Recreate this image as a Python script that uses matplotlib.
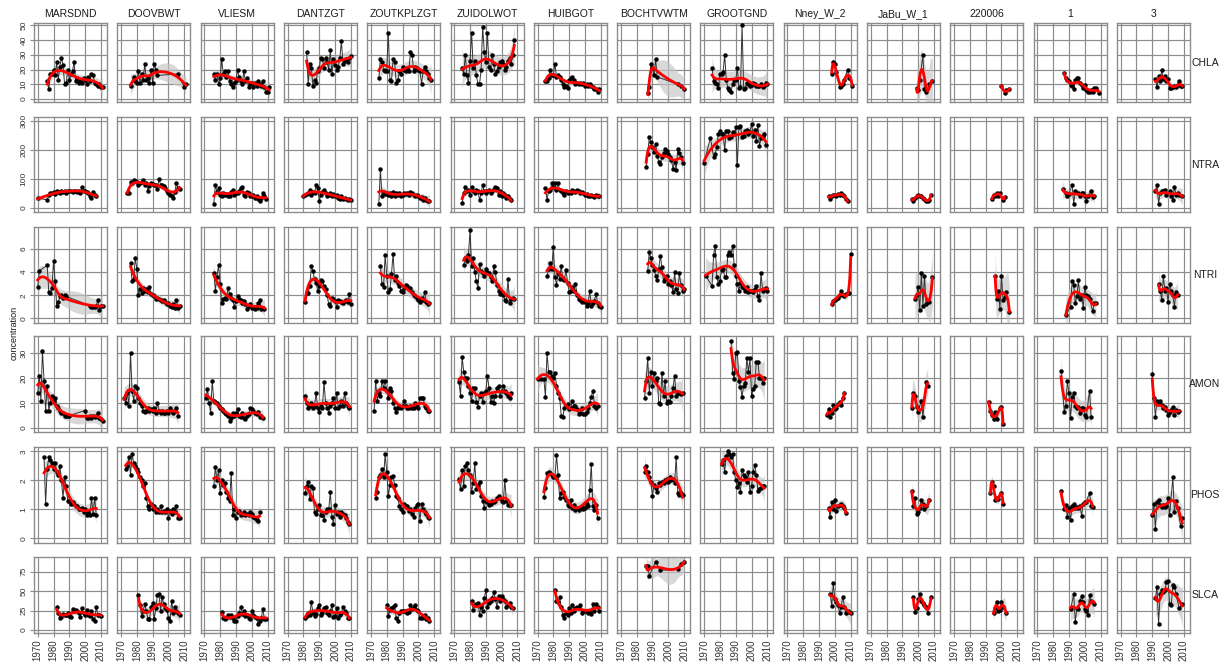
import numpy as np
import matplotlib.pyplot as plt

plt.rcParams['font.family'] = ['Liberation Sans', 'DejaVu Sans']

# stations (columns) and variables (rows)
STATIONS = ["MARSDND", "DOOVBWT", "VLIESM", "DANTZGT", "ZOUTKPLZGT", "ZUIDOLWOT", "HUIBGOT",
            "BOCHTVWTM", "GROOTGND", "Nney_W_2", "JaBu_W_1", "220006", "1", "3"]
KEYS = ["MARSDND", "DOOVBWT", "VLIESM", "DANTZGT", "ZOUTKPLZGT", "ZUIDOLWOT", "HUIBGOT",
        "BOCHTVWTM", "GROOTGND", "NNEY", "JABU", "S220006", "S1", "S3"]
VARIABLES = ["CHLA", "NTRA", "NTRI", "AMON", "PHOS", "SLCA"]

YEAR_TICKS = [1970, 1980, 1990, 2000, 2010]
Y_TICKS = {"CHLA": [0, 10, 20, 30, 40, 50], "NTRA": [0, 100, 200, 300], "NTRI": [0, 2, 4, 6],
           "AMON": [0, 10, 20, 30], "PHOS": [0, 1, 2, 3], "SLCA": [0, 25, 50, 75]}

# each series: (first year, yearly values; None = no measurement)
CHLA_MARSDND = (1976, [12, 7, 17, 17, 20, 16, 25, 13, 22, 28, 23, 10, 11, 20, 13, 17, 19, 25, 12, 14, 11, 12, 11, 14, 13, 10, 15, 12, 17, 16, 11, 10, 9, 10, 8, 8])
CHLA_DOOVBWT = (1976, [9, None, 15, 12, 11, 19, 11, 17, 13, 24, 13, 14, 11, 20, 11, 24, 20, 16] + [None] * 12 + [17, None, None, None, 8, 10])
CHLA_VLIESM = (1976, [17, 13, 17, 10, 14, 27, 17, 19, 15, 19, 12, 10, 8, 11, 12, 20, 15, 12, 10, 19, 12, 14, 8, 10, 11, 8, 11, 9, 12, 10, 9, 12, 8, 5, 5, 8])
CHLA_DANTZGT = (1982, [32, 10, 24, 21, 9, 13, 11, 19, 21, 28, 27, 21, 28, 25, 20, 33, 17, 27, 23, 20, 22, 28, 39, 24, 26, 27, 25, 28, 29])
CHLA_ZOUTKPLZGT = (1975, [14, 27, 25, 20, 19, 19, 45, 13, 12, 27, 25, 11, 13, 19, 17, 22, 20, 19, 21, 19, 32, 30, 19, 22, 21, 20, 19, 10, 19, 22, 19, 17, 14, 13])
CHLA_ZUIDOLWOT = (1975, [21, 17, 30, 16, 11, 26, 45, 21, 26, 16, 10, 10, 20, 49, 32, 25, 45, 22, 20, 30, 24, 17, 19, 22, 25, 26, 24, 20, 22, 26, 28, 24, 30, 40])
CHLA_HUIBGOT = (1975, [12, 12, 14.5, 20, 16, 16, 24, 15, 16, 15, 13, 10, 8, 9, 7.5, 13, 14, 15, 13, 10, 11, 10, 11, 10, 11, 9, 10, 9, 10, 9, 8, 7, 6.5, 5, 7])
CHLA_BOCHTVWTM = (1987, [4, 8, 24, 21, 16, 27, 15] + [None] * 12 + [10, None, 9, None, 7])
CHLA_GROOTGND = (1975, [21, 12, 11, 10, 7.4, 17, 17, 18, 30, 13, 7.4, 6, 5, 10, 13, 13, 21, 7.4, 8, 50, 7, 7.4, 11, 10, 9, 9.5, 11, 10, 9, 8.5, 9, 10, 8, 9, 11, 10])
CHLA_NNEY = (1998, [17, 25, 24, 18, None, 8, 9, 10, 13, None, 20, 14, None, 9])
CHLA_JABU = (1999, [7.4, 6, 13, None, 29.5, 7, 5, None, 10, None, 12])
CHLA_S220006 = (2000, [9, None, 4.4, 5.8, None, 6.7])
CHLA_S1 = (1987, [17.4, 14.4, 12.8, 12, 9.8, 8.6, 6.7, 12.8, 14.4, 14.4, 11, 9.8, 7.4, 9.8, 6.3, 5, 5, 5.8, 5, 7.4, 7.4, None, 4.4])
CHLA_S3 = (1992, [13.7, 8.1, 15.6, 12, 19.5, 13.3, 15.6, 12, 13.3, 7.4, 7.4, 8.1, 8.6, 8.1, 9.8, 12, 9, 8.6])

NTRA_MARSDND = (1970, [34, None, None, None, None, None, 28, 45, 52, 50, 55, 48, 58, 55, 52, 60, 55, 58, 50, 60, 58, 60, 55, 58, 60, 55, 58, 50, 74, 60, 58, 55, 50, 40, 35, 55, 45, 42])
NTRA_DOOVBWT = (1974, [50, 52, 90, 85, 95, 93, 90, 80, 85, 90, 95, 80, 85, 60, 75, 85, 82, 80, 78, 65, 100, 80, 78, 75, 70, 60, 50, 45, 40, 35, 55, 85, 70, 65])
NTRA_VLIESM = (1976, [15, 80, 55, 68, 45, 40, 50, 45, 48, 42, 40, 55, 62, 45, 50, 52, 59, 70, 74, 45, 40, 55, 50, 42, 40, 45, 35, 40, 30, 25, 35, 50, 40, 30])
NTRA_DANTZGT = (1980, [40, 45, 48, 50, 62, 45, 55, 50, 80, 70, 25, 45, 55, 62, 50, 40, 45, 52, 42, 48, 40, 45, 35, 30, 40, 32, 35, 30, 28, 30, 28])
NTRA_ZOUTKPLZGT = (1975, [15, 133, 40, 55, 48, 50, 45, 52, 42, 55, 40, 50, 45, 52, 40, 45, 52, 48, 50, 45, 55, 50, 46, 42, 45, 40, 35, 38, 28, 35, 28, 25, 23])
NTRA_ZUIDOLWOT = (1975, [17, 51, 74, 57, 62, 45, 74, 57, 51, 62, 57, 28, 51, 80, 57, 51, 57, 62, 51, 60, 65, 74, 68, 45, 57, 40, 51, 45, 35, 40, 30, 28])
NTRA_HUIBGOT = (1975, [68, 28, 57, 62, 85, 74, 87, 62, 85, 62, 57, 51, 45, 57, 51, 55, 51, 62, 57, 55, 62, 60, 50, 55, 50, 45, 48, 42, 40, 45, 40, 38, 45, 42, 40])
NTRA_BOCHTVWTM = (1986, [142, 185, 244, 227, 210, 192, 222, 180, 160, 151, 175, 188, 205, 195, 187, 175, 165, 136, 160, 130, 205, 188, 175, 155])
NTRA_GROOTGND = (1970, [156, None, None, None, 242, None, 176, 185, 210, 256, 264, 255, 255, 199, 267, 265, 240, 245, 262, 255, 278, 148, 281, 284, 245, 248, 265, 270, 255, 262, 290, 250, 270, 232, 287, 215, 240, 250, 255, 218])
NTRA_NNEY = (1996, [40, 32, 42, 46, 44, 40, 49, 44, 50, 45, 40, 32, 23])
NTRA_JABU = (1996, [31, 23, 35, 40, 45, 42, 40, 35, 31, 23, 25, 28, 45])
NTRA_S220006 = (1994, [32, 45, 40, 53, 42, 51, None, 28, 37])
NTRA_S1 = (1986, [65, None, 53, 40, 49, None, 80, 15, 57, None, 51, 40, 51, 53, 42, 23, 40, None, 60, 38, 40])
NTRA_S3 = (1992, [57, 80, 15, 51, 57, 57, 62, 45, None, 57, 42, 28, 74, 45, 51, 45, None, 40])

NTRI_MARSDND = (1970, [2.7, 4.1, None, None, None, None, 4.6, 2.3, 2.2, 2.6, 5.0, 3.2, 1.1, 1.4, 1.9, 2.0, 1.8, 2.0, 1.9] + [None] * 14 + [1.1, 1.0, 1.0, 1.0, 1.1, 1.6, 0.7, 1.1, 1.1])
NTRI_DOOVBWT = (1976, [4.8, 3.2, 3.4, 5.2, 4.3, 2.0, 2.5, 2.2, 2.6, 2.4, 2.5, 2.3, 2.7, 2.1, 2.0, 1.9, 1.7, 1.8, 1.7, 1.6, 1.5, 1.6, 1.4, 1.2, 1.3, 1.1, 1.0, 1.2, 0.9, 1.6, 0.9, 1.1])
NTRI_VLIESM = (1976, [3.9, 2.4, 3.6, 4.6, 3.0, 1.3, 1.7, 1.8, 1.7, 2.6, 2.1, 1.8, 1.6, 1.0, 1.5, 1.9, 1.7, 1.6, 1.3, 1.5, 1.2, 0.8, 1.1, 1.2, 0.9, 1.0, 0.8, 0.9, 1.3, 1.6, 0.8, 0.9, 0.85])
NTRI_DANTZGT = (1981, [1.4, 2.2, 2.2, 2.8, 4.5, 4.1, 3.4, 3.1, 2.4, 2.8, 3.3, 3.2, 2.8, 2.5, 2.0, 1.2, 1.1, 1.8, 1.7, 1.5, 1.0, 1.6, 1.5, 1.4, 1.3, 1.5, 1.6, 1.4, 2.1, 1.2])
NTRI_ZOUTKPLZGT = (1976, [4.5, 3.0, 2.7, 5.5, 3.7, 2.3, 2.5, 3.8, 5.6, 3.3, 3.7, 3.1, 2.8, 2.4, 2.3, 2.6, 2.9, 2.8, 2.5, 2.6, 2.3, 2.0, 1.9, 1.8, 1.6, 1.4, 1.8, 1.6, 2.3, 1.4, 1.2, 1.3])
NTRI_ZUIDOLWOT = (1976, [4.6, 5.2, 5.0, 5.5, 7.6, 4.5, 5.2, 4.0, 3.2, 2.6, 4.7, 4.1, 3.9, 3.7, 4.3, 4.0, 3.9, 3.6, 3.2, 4.5, 4.0, 2.9, 2.4, 2.1, 2.3, 2.0, 1.6, 1.5, 3.4, 1.3, 1.7, 1.8, 1.7])
NTRI_HUIBGOT = (1976, [3.65, 4.3, 4.8, 4.3, 6.2, 3.6, 2.9, 3.9, 3.4, 4.5, 3.4, 3.3, 4.2, 3.1, 2.3, 2.4, 2.7, 2.4, 3.0, 2.0, 1.7, 1.6, 1.4, 1.6, 1.4, 1.1, 1.3, 2.35, 1.1, 1.35, 1.5, 2.15, 1.3, 1.1, 1.0])
NTRI_BOCHTVWTM = (1987, [4.1, 5.7, 5.2, 4.6, 4.2, 3.7, 3.3, 4.3, 5.4, 4.4, 3.2, 3.4, 3.7, 3.0, 3.2, 2.9, 2.3, 4.0, 2.5, 2.2, 3.9, 2.9, 2.4, 2.5])
NTRI_GROOTGND = (1971, [3.7, None, None, None, 2.8, 5.5, 6.3, 3.6, 3.0, 3.2, 4.2, 4.3, 3.6, 3.6, 5.5, 5.7, 5.5, 6.3, 4.6, 3.7, 3.0, 2.4, 3.1, 2.7, 2.6, 2.4, 2.7, 2.3, 2.4, 2.4, 2.3, 2.5, 2.8, 1.9, 1.6, 3.9, 2.4, 2.5, 2.6, 2.4])
NTRI_NNEY = (1998, [1.2, 1.5, 1.6, 1.7, 1.8, 2.0, 2.4, 2.0, 1.9, 2.1, 2.2, 2.2, 5.6])
NTRI_JABU = (1998, [1.7, 2.0, 2.7, 0.75, 3.9, 1.1, 3.7, 1.2, 1.5, 1.4, None, 3.6])
NTRI_S220006 = (1996, [3.7, 1.7, 2.4, 0.85, 3.65, 1.55, 1.85, 2.3, None, 0.55])
NTRI_S1 = (1988, [0.26, None, None, 1.0, 3.2, 2.9, 1.3, 1.9, 3.3, 1.7, 2.0, 0.9, 2.7, 2.0, 1.9, 1.7, None, 0.6, 1.35, 1.35])
NTRI_S3 = (1994, [3.0, 2.4, 1.6, 3.65, 2.4, 2.6, 1.4, 3.0, 2.4, 2.0, 1.0, 2.3, 2.0])

AMON_MARSDND = (1970, [14, 21, 11, 31, 19, 7, 17, 7, 10, 13, 11, 12, 9, 8, 7, 6, 6, 5, 5, 5, 5] + [None] * 9 + [7, 4, 4, 5, 4, 5, 4.5, 5, 6, 4, 3.5, 3])
AMON_DOOVBWT = (1972, [12, 10, 14, 9, 30, 15, 11, 17, 16, 12, 10, 9, 7, 6.5, 7, 8, 7, 7.5, 7, 8, 6, 10, 7, 6, 7, 6, 6, 7, 6, 8, 7, 6, 7, 8, 5])
AMON_VLIESM = (1971, [12, 15.5, 10, 6, 19, 11, 10.5, 10, 9, 8, 7.5, 7, 6, 5.5, 5, 2.7, 4, 6, 5, 6, 7.5, 5, 4.5, 6, 4, 3.5, 5, 5.5, 8, 7.5, 7, 6, 5.5, 6.5, 4.5, 5, 4])
AMON_DANTZGT = (1981, [13, 10, 8, 9, 10, 8, 9, 14, 8, 6.5, 9, 8, 18.5, 10, 8, 6, 9, 10, 12, 8, 14, 8, 9, 11, 9, 14, 10, 9, 8])
AMON_ZOUTKPLZGT = (1972, [7, 19, 11, 14, 13, 19, 16, 19, 15, 12, 16, 15, 10, 8, 6.5, 8, 9, 8, 9, 11, 9, 8, 8, 9, 8, 8, 10, 9, 8, 12, 12, 12, 9, 8, 7, 7])
AMON_ZUIDOLWOT = (1973, [18.5, 13, 28.5, 22.5, 20, 20, 17, 14, 11, 16, 16, 10.5, 8.5, 13, 14, 10.5, 14, 15, 21, 16, 10.5, 13, 10, 13, 16, 17, 13, 15, 17, 15, 14, 13, 12, 14])
AMON_HUIBGOT = (1970, [19.6, None, 19.5, None, 19.8, 12.5, 30, 22.5, 22.5, 21, 20, 22, 17, 14, 12, 5, 4.5, 8, 9, 9.5, 7.5, 8, 11, 9, 9, 7.5, 5.5, 6, 8, 5.5, 5.5, 6.5, 8, 10, 12.5, 15, 9, 8, 9])
AMON_BOCHTVWTM = (1985, [12, 19, 28, 14, 22.5, 17, 22, 19, 20, 10, 9.5, 22, 13, 19, 10, 11, 10.5, 13, 16, 21, 13, 14, 14, 13.5, 14])
AMON_GROOTGND = (1987, [34.8, 22, 19.6, 30, 30.5, 19, 16.5, 12.5, 17, 18, 28, 22.5, 28, 13, 15.5, 17, 26.5, 26.5, 20, 20, 18, 20])
AMON_NNEY = (1995, [5.2, 7.8, 4.5, 6, 9.2, 7.8, 8, 9.5, 10.5, 9.2, 12, 13.9])
AMON_JABU = (1996, [8, 14, 13, 8.5, 6.5, None, 11, 4.5, None, 18.5, 17])
AMON_S220006 = (1992, [10.5, 7, 5.2, 3.6, 6.5, 3.6, None, 7.9, 8.5, 1.5])
AMON_S1 = (1985, [22.8, None, 6.5, 9, 18.8, 13.9, 3.9, 12.5, 13.9, 9, 7.9, 8.5, 5.9, 7.9, 7.9, 5.2, 4.5, None, 15, 4.5])
AMON_S3 = (1990, [21.5, 11.9, 4.5, 11, 9.9, 11, 9.2, 7.9, 8.5, 7.2, 5.2, 6.5, 7.2, 8.5, 5.2, 7.2, 6.5, 6.8])

PHOS_MARSDND = (1974, [2.8, 1.2, 2.4, 2.8, 2.7, 2.6, 2.4, 2.6, 2.3, 2.2, 2.5, 2.0, 1.4, 2.1, 1.8, 1.3, 1.3, 1.2, 1.25, 1.2, 1.1, 1.1, 1.0, 1.0, 1.05, 0.9, 1.0, 0.8, 0.9, 0.8, 1.4, 0.85, 1.4, 0.8])
PHOS_DOOVBWT = (1973, [2.4, 2.5, 2.8, 2.2, 2.9, 2.6, 2.5, 2.4, 2.3, 2.1, 2.0, 1.8, 1.9, 1.4, 1.1, 1.0, 1.2, 1.0, 1.1, 0.9, 1.0, 0.9, 1.1, 0.9, 0.95, 0.9, 1.0, 0.7, 0.95, 0.85, 1.0, 0.9, 1.1, 0.7, 0.7])
PHOS_VLIESM = (1976, [1.8, 2.45, 2.0, 2.35, 1.55, 2.0, 1.85, 1.9, 1.6, 1.4, 1.3, 2.25, 0.8, 1.0, 0.7, 0.9, 0.95, 0.8, 0.85, 0.9, 0.8, 0.85, 0.8, 0.9, 0.85, 0.75, 0.7, 0.65, 0.6, 0.9])
PHOS_DANTZGT = (1981, [1.55, 1.8, 1.95, 1.35, 1.8, 1.75, 0.9, 0.85, 1.0, 1.15, 0.8, 0.8, 0.65, 0.9, 1.0, 1.0, 1.6, 0.75, 0.5, 1.15, 0.85, 0.9, 0.75, 0.9, 0.85, 0.8, 0.7, 0.55, 0.5])
PHOS_ZOUTKPLZGT = (1973, [1.38, 1.6, 2.1, 2.2, 2.4, 2.1, 2.9, 2.3, 1.45, 1.85, 2.1, 2.15, 1.85, 1.45, 1.4, 1.1, 1.0, 0.9, 1.2, 1.1, 1.1, 0.95, 1.0, 0.85, 0.75, 1.05, 1.15, 1.2, 0.6, 1.2, 1.0, 0.9, 0.85, 0.75, 0.7])
PHOS_ZUIDOLWOT = (1973, [2.03, 1.7, 2.36, 1.8, 2.5, 2.6, 2.35, 2.2, 1.6, 1.9, 2.6, 1.7, 1.85, 1.95, 1.45, 1.3, 1.05, 1.3, 1.25, 1.15, 1.2, 1.3, 1.25, 1.3, 1.4, 1.45, 1.4, 1.3, 1.25, 2.0, 1.3, 1.15, 1.15, 1.15])
PHOS_HUIBGOT = (1974, [1.44, 1.72, 2.24, 2.3, 2.24, 2.2, 2.1, 2.1, 2.87, 2.2, 1.38, 1.55, 1.6, 1.44, 1.32, 1.15, 1.1, 1.32, 1.05, 1.15, 0.98, 1.04, 0.98, 1.04, 1.1, 1.0, 1.05, 1.2, 1.1, 1.67, 2.55, 1.1, 0.98, 1.15, 0.7])
PHOS_BOCHTVWTM = (1985, [2.28, 2.5, 2.3, 2.1, 1.95, 1.46, 1.85, 1.75, 1.6, 1.9, 1.85, 1.95, 1.9, 2.0, 2.05, 1.95, 2.1, 2.0, 2.05, 1.9, 2.8, 1.55, 1.5, 1.55, 1.5])
PHOS_GROOTGND = (1981, [2.56, 2.7, 2.3, 2.84, 3.0, 2.9, 2.8, 2.9, 2.3, 2.0, 1.78, 1.9, 1.6, 2.36, 2.2, 2.1, 1.95, 2.3, 1.6, 1.8, 2.3, 2.53, 2.2, 1.65, 1.7, 1.75, 1.8, 1.8])
PHOS_NNEY = (1996, [1.06, 0.75, 1.26, 1.0, 1.32, 0.95, 1.1, 1.15, 1.2, 1.1, 1.05, 0.88])
PHOS_JABU = (1996, [1.64, 1.1, 1.38, 0.84, 0.9, 1.05, 1.32, 1.2, 1.0, 1.1, None, 1.32])
PHOS_S220006 = (1993, [1.55, 1.95, 1.8, 1.32, 1.38, 1.35, None, 1.57, 1.2])
PHOS_S1 = (1985, [1.64, None, 1.0, 1.15, 0.75, 1.03, 0.63, 1.11, 1.2, 1.03, 1.09, 1.03, 1.11, 0.77, 1.2, 1.26, 1.26, None, 1.57, 1.11, 1.07])
PHOS_S3 = (1990, [0.8, 1.2, 0.31, 1.26, 1.32, 1.15, 1.07, 1.15, 1.09, 1.1, 1.38, 0.8, None, 2.1, 0.92, 1.3, 1.03, None, 0.43, 0.69])

SLCA_MARSDND = (1982, [30, 22, 16, 17, 21, 20, 19, 22, 18, 17, 27, 25, 26, 24, 22, 17, 28, 22, 20, 26, 19, 18, 24, 14, 12, 30, 20, 19, 18])
SLCA_DOOVBWT = (1981, [45, 32, 18, 25, 33, 25, 14, 14, 30, 35, 14, 28, 45, 47, 25, 42, 33, 28, 26, 15, 12, 38, 22, 30, 25, 22, 20])
SLCA_VLIESM = (1981, [23, 16, 14, 15, 19, 17, 20, 15, 11, 12, 18, 22, 30, 21, 24, 18, 20, 16, 14, 25, 20, 17, 15, 8, 12, 15, 27, 14, 14])
SLCA_DANTZGT = (1981, [16, 18, 22, 20, 36, 22, 18, 21, 28, 32, 19, 22, 28, 30, 22, 20, 24, 32, 17, 18, 28, 15, 20, 22, 30, 25, 22, 15, 15])
SLCA_ZOUTKPLZGT = (1980, [32, 18, 26, 28, 30, 32, 15, 11.5, 22, 25, 24, 25, 24, 22, 23, 32, 27, 30, 32, 26, 24, 15, 16, 18, 20, 14, 16, 12])
SLCA_ZUIDOLWOT = (1981, [38, 26, 32, 33, 35, 20, 30, 25, 41, 51, 30, 35, 38, 41, 49, 40, 30, 44, 38, 44, 40, 38, 30, 32, 35, 30, 28])
SLCA_HUIBGOT = (1981, [52, 38, 36, 42, 30, 19, 16, 22, 19, 28, 22, 32, 25, 28, 30, 28, 32, 22, 24, 25, 24, 22, 25, 21, 34, 25, 34, 30, 25])
SLCA_BOCHTVWTM = (1986, [83, 82, 70, None, None, None, 88, None, None, 77] + [None] * 10 + [78, None, 85, None, 87])
SLCA_NNEY = (1997, [47, 31, 60, 40, 36, 32, 22, 30, 43, 30, 22, 25, 23, 22])
SLCA_JABU = (1997, [42, 23.5, 28, 40, 46, 38, 35, 32, 30, 22, None, 42])
SLCA_S220006 = (1995, [22, 28, 36, 25, 26, 36, 30, None, 22])
SLCA_S1 = (1991, [26.5, None, 46, 10.7, 28, 26.5, 38, 43.6, 36, 26.5, 25, 19, 45, 38, None, 34])
SLCA_S3 = (1992, [40.6, 55.6, 7.7, 47, 51, 49, 51, 62, 63, 33, 32, 57.7, 56, 47, None, 27.8, None, 34])


def bspline_basis(x, inner, xl, xr, deg=3):
    # clamped cubic B-spline basis (Cox - de Boor)
    t = np.concatenate([[xl] * (deg + 1), inner, [xr] * (deg + 1)])
    B = np.zeros((len(x), len(t) - 1))
    spans = [i for i in range(len(t) - 1) if t[i] < t[i + 1]]
    for i in spans:
        B[:, i] = (x >= t[i]) & (x < t[i + 1])
    B[x >= xr, spans[-1]] = 1.0
    for d in range(1, deg + 1):
        Bn = np.zeros((len(x), len(t) - 1 - d))
        for i in range(len(t) - 1 - d):
            if t[i + d] > t[i]:
                Bn[:, i] += (x - t[i]) / (t[i + d] - t[i]) * B[:, i]
            if t[i + d + 1] > t[i + 1]:
                Bn[:, i] += (t[i + d + 1] - x) / (t[i + d + 1] - t[i + 1]) * B[:, i + 1]
        B = Bn
    return B


def smooth_fit(x, y, n_out=120, max_edf=5.5):
    # penalised regression spline (knots at data quantiles), fixed effective df, 2-se band
    n = len(x)
    x0, x1 = x.min(), x.max()
    nb = int(min(10, max(4, n - 1)))
    inner = np.quantile(x, np.linspace(0, 1, nb - 2)[1:-1]) if nb > 4 else np.array([])
    B = bspline_basis(x, inner, x0, x1)
    D2 = np.diff(np.eye(nb), n=2, axis=0)
    S = D2.T @ D2
    target = min(max_edf, n - 1.0)

    def solve(loglam):
        Ainv = np.linalg.inv(B.T @ B + 10.0 ** loglam * S + 1e-9 * np.eye(nb))
        return Ainv, np.trace(B @ Ainv @ B.T)

    lo, hi = -8.0, 8.0
    for _ in range(50):
        mid = 0.5 * (lo + hi)
        if solve(mid)[1] > target:
            lo = mid
        else:
            hi = mid
    Ainv, edf = solve(0.5 * (lo + hi))
    beta = Ainv @ B.T @ y
    res = y - B @ beta
    sig2 = (res @ res) / max(n - edf, 1.0)
    xg = np.linspace(x0, x1, n_out)
    Bg = bspline_basis(xg, inner, x0, x1)
    fit = Bg @ beta
    se = np.sqrt(np.maximum(np.einsum('ij,jk,ik->i', Bg, Ainv, Bg), 0) * sig2)
    return xg, fit, se


W, H = 1224, 664
XLIM = (1967.65, 2013.8)
YLIMS = {"CHLA": (-2, 51.5), "NTRA": (-14, 314), "NTRI": (-0.4, 7.9),
         "AMON": (-1.6, 36.8), "PHOS": (-0.16, 3.15), "SLCA": (-3.8, 94)}
ROW_BOX = [(23, 102), (117, 212), (227, 323), (336, 432), (447, 543), (557, 633)]
COL_LEFT0, COL_STEP, COL_W = 34, 83.3, 73
FRAME = '#8c8c8c'

fig = plt.figure(figsize=(W / 100, H / 100), dpi=100)

for r, var in enumerate(VARIABLES):
    top, bot = ROW_BOX[r]
    for c, key in enumerate(KEYS):
        left = COL_LEFT0 + c * COL_STEP
        ax = fig.add_axes([left / W, 1 - bot / H, COL_W / W, (bot - top) / H])
        ax.set_xlim(XLIM)
        ax.set_ylim(YLIMS[var])
        ax.set_xticks(YEAR_TICKS)
        ax.set_yticks(Y_TICKS[var])
        ax.grid(True, color=FRAME, linewidth=0.85)
        ax.set_axisbelow(True)
        for s in ax.spines.values():
            s.set_color(FRAME)
            s.set_linewidth(1.0)
        ax.tick_params(colors=FRAME, labelcolor='#333333', length=3, width=0.8)
        if c == 0:
            ax.tick_params(axis='y', labelsize=6, pad=1.5)
            for lab in ax.get_yticklabels():
                lab.set_rotation(90)
                lab.set_va('center')
        else:
            ax.tick_params(axis='y', left=False, labelleft=False)
        if r == len(VARIABLES) - 1:
            ax.tick_params(axis='x', labelsize=7, pad=1.5, labelrotation=90)
        else:
            ax.tick_params(axis='x', bottom=False, labelbottom=False)

        series = globals().get(f"{var}_{key}")
        if series is None:
            continue
        y0, vals = series
        yrs = np.array([y0 + i for i, v in enumerate(vals) if v is not None], dtype=float)
        vv = np.array([v for v in vals if v is not None], dtype=float)
        xs, fit, se = smooth_fit(yrs, vv)
        ax.fill_between(xs, fit - 2 * se, fit + 2 * se, color='#c4c4c4', alpha=0.65, lw=0, zorder=2)
        ax.plot(yrs, vv, color='#333333', lw=0.7, marker='o', ms=2.2, mfc='black', mec='black', zorder=3)
        ax.plot(xs, fit, color='red', lw=2, zorder=4)

# strip titles
for c, name in enumerate(STATIONS):
    cx = (COL_LEFT0 + c * COL_STEP + COL_W / 2) / W
    fig.text(cx, 1 - 14 / H, name, ha='center', va='center', fontsize=7.5, color='#1a1a1a')
for r, var in enumerate(VARIABLES):
    top, bot = ROW_BOX[r]
    fig.text(1205 / W, 1 - (top + bot) / 2 / H, var, ha='center', va='center', fontsize=7.5, color='#1a1a1a')
fig.text(14 / W, 1 - 333 / H, 'concentration', rotation=90, ha='center', va='center', fontsize=6.5, color='#1a1a1a')

fig.savefig('out.png', dpi=100)
